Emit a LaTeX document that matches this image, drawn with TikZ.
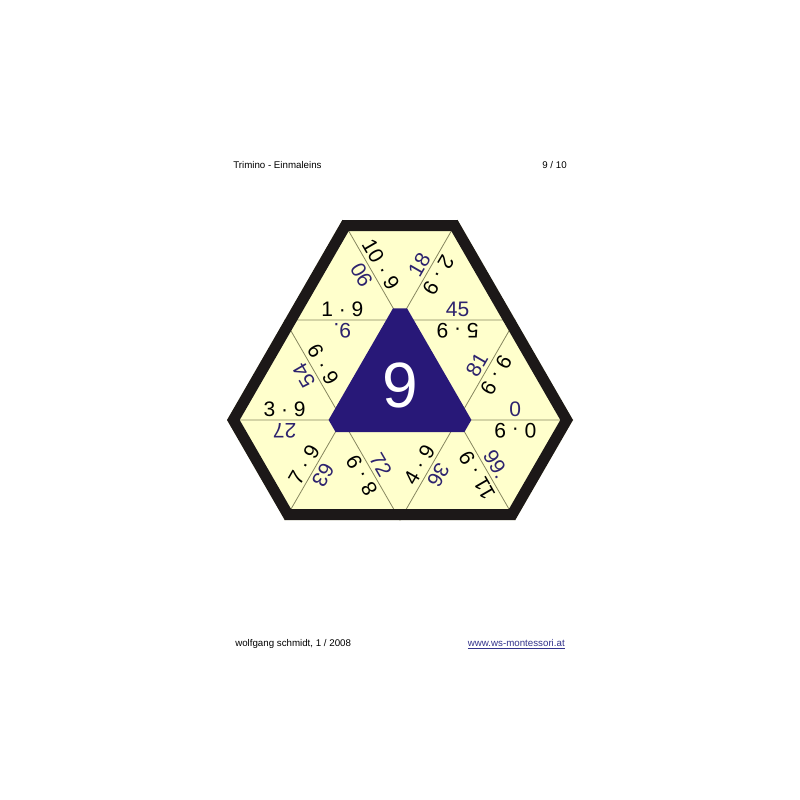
\documentclass[tikz,border=0pt]{standalone}
\usepackage{fontspec}
\setmainfont{Liberation Sans}
\usetikzlibrary{calc}
\definecolor{cream}{RGB}{255,255,204}
\definecolor{navy}{RGB}{40,24,120}
\definecolor{ans}{RGB}{45,35,110}
\definecolor{gridc}{RGB}{135,135,95}
\definecolor{borderc}{RGB}{28,24,24}
\definecolor{linkc}{RGB}{50,50,140}
\newcommand\lbl[6]{%
  \coordinate (#1m) at ($(#2)!0.5!(#3)$);
  \node[#5, rotate=#4] (#1) at ($(#1m)!8.25pt!90:(#3)$) {#6};}
\begin{document}
\begin{tikzpicture}[x=0.75pt, y=-0.75pt,
  prob/.style={inner sep=0pt, font=\fontsize{15.75}{16}\selectfont, text=black},
  answ/.style={inner sep=0pt, font=\fontsize{15.75}{16}\selectfont, text=ans},
  gridline/.style={draw=gridc, line width=0.6pt},
  small/.style={inner sep=0pt, font=\fontsize{7.3}{8}\selectfont}]
\useasboundingbox[fill=white] (0,0) rectangle (800,800);
% grid points
\coordinate (T1) at (342.35,220); \coordinate (T2) at (457.65,220);
\coordinate (A) at (284.7,320); \coordinate (B) at (400,320); \coordinate (C) at (515.3,320);
\coordinate (D) at (227,420); \coordinate (E) at (342.35,420); \coordinate (F) at (457.65,420); \coordinate (G) at (573,420);
\coordinate (H) at (284.7,520); \coordinate (I) at (400,520); \coordinate (J) at (515.3,520);
% fill
\fill[cream] (T1) -- (T2) -- (G) -- (J) -- (H) -- (D) -- cycle;
% grid lines
\draw[gridline] (A) -- (C) (D) -- (G)
  (T1) -- (B) -- (T2) (A) -- (E) -- (H) (E) -- (I) -- (F) -- (J) (C) -- (F)
  (B) -- (E) (B) -- (F);
% central blue piece
\fill[navy] (393,308.3) -- (407,308.3) -- (471.4,419.9) -- (464.4,432)
  -- (335.6,432) -- (328.6,419.9) -- cycle;
\node[inner sep=0pt, text=white, font=\fontsize{48}{50}\selectfont] (nine) at (400,385) {9};
% border
\begin{scope}
\clip (T1) -- (T2) -- (G) -- (J) -- (H) -- (D) -- cycle;
\draw[borderc, line width=16.5pt, line join=miter] (T1) -- (T2) -- (G) -- (J) -- (H) -- (D) -- cycle;
\end{scope}
% labels
\lbl{l1}{A}{B}{0}{prob}{1 · 9}
\lbl{l2}{B}{A}{180}{answ}{9.}
\lbl{l3}{B}{C}{0}{answ}{45}
\lbl{l4}{C}{B}{180}{prob}{5 · 9}
\lbl{l5}{D}{E}{0}{prob}{3 · 9}
\lbl{l6}{E}{D}{180}{answ}{27}
\lbl{l7}{F}{G}{0}{answ}{0}
\lbl{l8}{G}{F}{180}{prob}{0 · 9}
\lbl{l9}{T1}{B}{-60}{prob}{10 · 9}
\lbl{l10}{B}{T1}{120}{answ}{90}
\lbl{l11}{B}{T2}{60}{answ}{18}
\lbl{l12}{T2}{B}{-120}{prob}{2 · 9}
\lbl{l13}{A}{E}{-60}{prob}{6 · 9}
\lbl{l14}{E}{A}{120}{answ}{54}
\lbl{l15}{F}{C}{60}{answ}{81}
\lbl{l16}{C}{F}{-120}{prob}{9 · 9}
\lbl{l17}{H}{E}{60}{prob}{7 · 9}
\lbl{l18}{E}{H}{-120}{answ}{63}
\lbl{l19}{E}{I}{-60}{answ}{72}
\lbl{l20}{I}{E}{120}{prob}{8 · 9}
\lbl{l21}{I}{F}{60}{prob}{4 · 9}
\lbl{l22}{F}{I}{-120}{answ}{36}
\lbl{l23}{F}{J}{-60}{answ}{99.}
\lbl{l24}{J}{F}{120}{prob}{11 · 9}
% header and footer
\node[small, anchor=base west] (title) at (233,168) {Trimino - Einmaleins};
\node[small, anchor=base east] (page) at (567,168) {9 / 10};
\node[small, anchor=base west] (author) at (235,646) {wolfgang schmidt, 1 / 2008};
\node[small, anchor=base east, text=linkc] (url) at (565,646) {\underline{www.ws-montessori.at}};
\end{tikzpicture}
\end{document}
